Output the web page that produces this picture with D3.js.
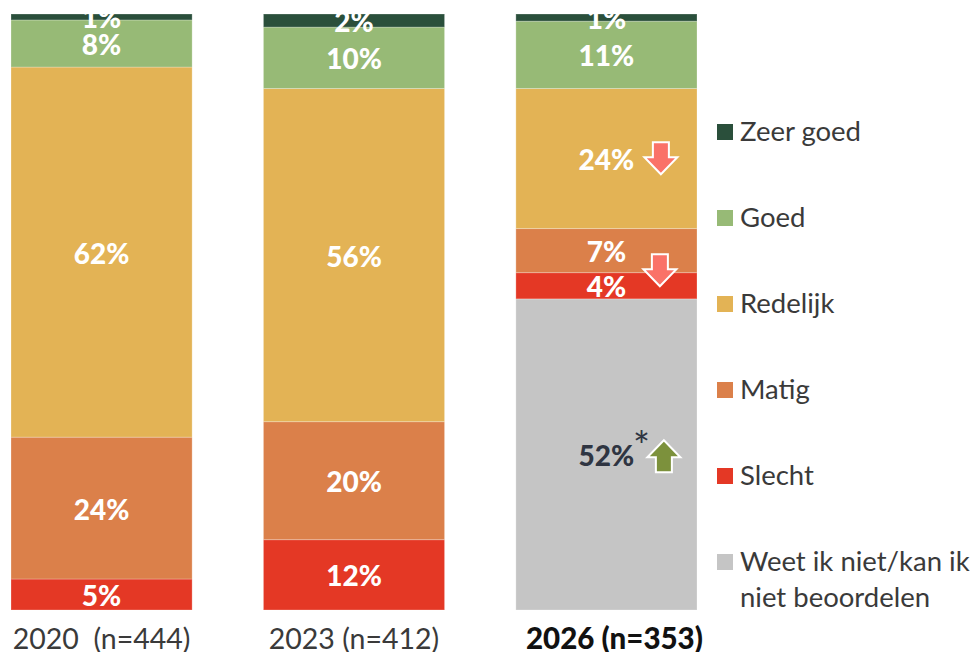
<!DOCTYPE html>
<html>
<head>
<meta charset="utf-8">
<script src="https://cdn.jsdelivr.net/npm/d3@7"></script>
<style>
  html, body { margin: 0; padding: 0; background: #fff; }
  svg { display: block; font-family: Lato, "Open Sans", sans-serif; }
</style>
</head>
<body>
<div id="chart"></div>
<script>
// stacked from the bottom up
var years = ["2020  (n=444)", "2023 (n=412)", "2026 (n=353)"];
var seriesNames = ["Weet ik niet/kan ik niet beoordelen", "Slecht", "Matig", "Redelijk", "Goed", "Zeer goed"];
var legendOrder = ["Zeer goed", "Goed", "Redelijk", "Matig", "Slecht", "Weet ik niet/kan ik niet beoordelen"];
var seriesColors = ["#c5c5c5", "#e43825", "#db804a", "#e3b355", "#97ba76", "#2a4f3b"];

// heights, the printed labels are rounded
var weetValues = [0, 0, 52.2];
var slechtValues = [5.2, 11.8, 4.4];
var matigValues = [23.8, 19.8, 7.4];
var redelijkValues = [62.1, 55.9, 23.5];
var goedValues = [7.9, 10.3, 11.3];
var zeerGoedValues = [1.0, 2.2, 1.2];

var slechtLabels = ["5%", "12%", "4%"];
var matigLabels = ["24%", "20%", "7%"];
var redelijkLabels = ["62%", "56%", "24%"];
var goedLabels = ["8%", "10%", "11%"];
var zeerGoedLabels = ["1%", "2%", "1%"];
var weetLabels = ["", "", "52%"];

// significance arrows, all in the 2026 column
var arrowLevels = [75.8, 57.0, 25.8];
var arrowDirections = ["down", "down", "up"];
var arrowColors = ["#fa7268", "#fa7268", "#7c913c"];

var width = 975;
var height = 652;
var margin = { top: 14, right: 278, bottom: 42, left: 11 };
var innerWidth = width - margin.left - margin.right;
var innerHeight = height - margin.top - margin.bottom;

var table = years.map(function(year, i) {
  return {
    year: year,
    "Weet ik niet/kan ik niet beoordelen": weetValues[i],
    "Slecht": slechtValues[i],
    "Matig": matigValues[i],
    "Redelijk": redelijkValues[i],
    "Goed": goedValues[i],
    "Zeer goed": zeerGoedValues[i]
  };
});
var labelTable = {
  "Weet ik niet/kan ik niet beoordelen": weetLabels,
  "Slecht": slechtLabels,
  "Matig": matigLabels,
  "Redelijk": redelijkLabels,
  "Goed": goedLabels,
  "Zeer goed": zeerGoedLabels
};

var xScale = d3.scaleBand().domain(years).range([0, innerWidth]).paddingInner(0.2825).paddingOuter(0);
var yScale = d3.scaleLinear().domain([0, 100]).range([innerHeight, 0]);
var color = d3.scaleOrdinal().domain(seriesNames).range(seriesColors);

var stacked = d3.stack().keys(seriesNames)(table);

var svg = d3.select("#chart").append("svg").attr("width", width).attr("height", height);

// the labels of the thin top segments are cut off at the top of the bars
svg.append("clipPath").attr("id", "plot-clip")
  .append("rect")
  .attr("x", 0)
  .attr("y", 0)
  .attr("width", innerWidth)
  .attr("height", innerHeight);

var g = svg.append("g")
  .attr("transform", "translate(" + margin.left + "," + margin.top + ")");

var layers = g.selectAll(".layer")
  .data(stacked)
  .enter().append("g")
  .attr("class", "layer")
  .attr("fill", function(d) { return color(d.key); });

layers.selectAll("rect")
  .data(function(d) { return d; })
  .enter().append("rect")
  .attr("x", function(d) { return xScale(d.data.year); })
  .attr("y", function(d) { return yScale(d[1]); })
  .attr("width", xScale.bandwidth())
  .attr("height", function(d) { return yScale(d[0]) - yScale(d[1]); })
  .attr("stroke", "#fff")
  .attr("stroke-opacity", 0.25)
  .attr("stroke-width", 1);

var labelGroup = g.append("g").attr("clip-path", "url(#plot-clip)");

stacked.forEach(function(layer) {
  labelGroup.selectAll(null)
    .data(layer.filter(function(d, i) { return labelTable[layer.key][i] !== ""; }))
    .enter().append("text")
    .attr("x", function(d) { return xScale(d.data.year) + xScale.bandwidth() / 2; })
    .attr("y", function(d) { return (yScale(d[0]) + yScale(d[1])) / 2 + 11.5; })
    .attr("text-anchor", "middle")
    .attr("font-size", 28)
    .attr("font-weight", 900)
    .attr("fill", layer.key === seriesNames[0] ? "#2f3542" : "#fff")
    .text(function(d) { return labelTable[layer.key][years.indexOf(d.data.year)]; });
});

// asterisk next to the 52% label
g.append("text")
  .attr("x", xScale(years[2]) + xScale.bandwidth() / 2 + 35)
  .attr("y", yScale(weetValues[2] / 2) + 7)
  .attr("text-anchor", "middle")
  .attr("font-size", 40)
  .attr("fill", "#2f3542")
  .text("*");

// arrows
var arrowShape = function(dir) {
  var s = dir === "down" ? 1 : -1;
  var p = d3.path();
  p.moveTo(-8, -16 * s);
  p.lineTo(8, -16 * s);
  p.lineTo(8, -1 * s);
  p.lineTo(16.5, -1 * s);
  p.lineTo(0, 16 * s);
  p.lineTo(-16.5, -1 * s);
  p.lineTo(-8, -1 * s);
  p.closePath();
  return p.toString();
};

g.selectAll(".arrow")
  .data(arrowLevels)
  .enter().append("path")
  .attr("class", "arrow")
  .attr("transform", function(d, i) {
    var offset = [145, 144, 148][i];
    return "translate(" + (xScale(years[2]) + offset) + "," + yScale(d) + ")";
  })
  .attr("d", function(d, i) { return arrowShape(arrowDirections[i]); })
  .attr("fill", function(d, i) { return arrowColors[i]; })
  .attr("stroke", "#fff")
  .attr("stroke-width", 2);

// x axis
var xAxis = g.append("g")
  .attr("class", "x axis")
  .attr("transform", "translate(0," + innerHeight + ")")
  .call(d3.axisBottom(xScale).tickSize(0).tickPadding(0));
xAxis.select(".domain").remove();
xAxis.selectAll("text")
  .attr("y", 39)
  .attr("dy", 0)
  .attr("x", function(d, i) { return i === 2 ? 8 : 0; })
  .attr("font-family", "Lato")
  .style("white-space", "pre")
  .attr("font-size", function(d, i) { return i === 2 ? 29.5 : 28.5; })
  .attr("font-weight", function(d, i) { return i === 2 ? 900 : 400; })
  .attr("fill", function(d, i) { return i === 2 ? "#111" : "#3a3a3a"; });

// legend
var legendScale = d3.scalePoint().domain(legendOrder).range([132, 562]);
var legend = svg.selectAll(".legend")
  .data(legendOrder)
  .enter().append("g")
  .attr("class", "legend")
  .attr("transform", function(d) { return "translate(717," + legendScale(d) + ")"; });

legend.append("rect")
  .attr("x", 0)
  .attr("y", -8)
  .attr("width", 16)
  .attr("height", 16)
  .attr("fill", function(d) { return color(d); });

legend.append("text")
  .attr("x", 23)
  .attr("y", 9)
  .attr("font-size", 27.5)
  .attr("fill", "#3a3a3a")
  .each(function(d) {
    var text = d3.select(this);
    if (d === seriesNames[0]) {
      text.append("tspan").attr("x", 23).text("Weet ik niet/kan ik");
      text.append("tspan").attr("x", 23).attr("dy", 36).text("niet beoordelen");
    } else {
      text.text(d);
    }
  });
</script>
</body>
</html>
